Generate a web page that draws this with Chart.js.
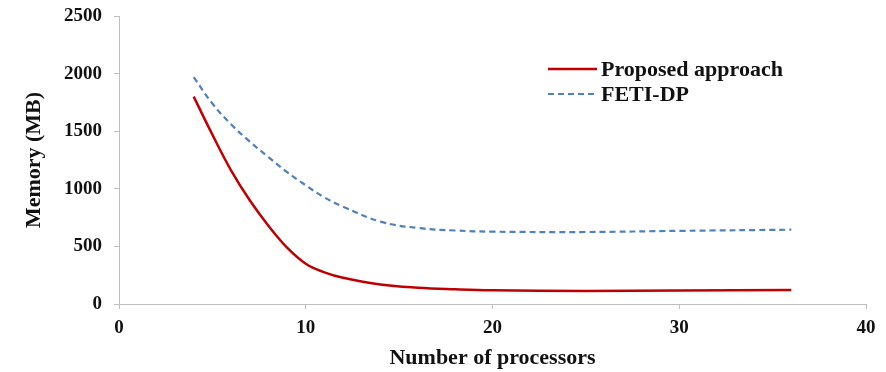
<!DOCTYPE html>
<html>
<head>
<meta charset="utf-8">
<script src="https://cdn.jsdelivr.net/npm/chart.js@4/dist/chart.umd.min.js"></script>
<style>
html,body{margin:0;padding:0;background:#fff;}
#wrap{width:886px;height:372px;}
</style>
</head>
<body>
<div id="wrap"><canvas id="c" width="886" height="372"></canvas></div>
<script>
const processors = [4, 5, 6, 7, 8, 9, 10, 11, 12, 14, 16, 18, 20, 25, 30, 36];
const proposed   = [1800, 1470, 1160, 900, 680, 490, 350, 275, 228, 170, 142, 128, 119, 113, 117, 122];
const fetiDP     = [1970, 1740, 1560, 1410, 1275, 1145, 1030, 925, 845, 715, 660, 638, 628, 625, 635, 645];
const seriesNames = ['Proposed approach', 'FETI-DP'];
const xTicks = [0, 10, 20, 30, 40];
const yTicks = [0, 500, 1000, 1500, 2000, 2500];

const serif = "'Liberation Serif', 'Times New Roman', serif";

const legendPlugin = {
  id: 'insideLegend',
  afterDraw(chart) {
    const ctx = chart.ctx;
    const items = [
      {ds: chart.data.datasets[0], y: 69},
      {ds: chart.data.datasets[1], y: 94}
    ];
    ctx.save();
    items.forEach(it => {
      ctx.strokeStyle = it.ds.borderColor;
      ctx.lineWidth = it.ds.borderWidth;
      ctx.setLineDash(it.ds.borderDash || []);
      ctx.beginPath();
      ctx.moveTo(548, it.y);
      ctx.lineTo(597, it.y);
      ctx.stroke();
      ctx.setLineDash([]);
      ctx.fillStyle = '#111';
      ctx.font = 'bold 22px ' + serif;
      ctx.textBaseline = 'middle';
      ctx.textAlign = 'left';
      ctx.fillText(it.ds.label, 601, it.y + 1);
    });
    ctx.restore();
  }
};

new Chart(document.getElementById('c'), {
  type: 'line',
  data: {
    datasets: [
      {
        label: seriesNames[0],
        data: processors.map((x, i) => ({x: x, y: proposed[i]})),
        borderColor: '#C00000',
        borderWidth: 2.5,
        pointRadius: 0,
        tension: 0.4,
        fill: false
      },
      {
        label: seriesNames[1],
        data: processors.map((x, i) => ({x: x, y: fetiDP[i]})),
        borderColor: '#4F81BD',
        borderWidth: 2.2,
        borderDash: [6, 4],
        pointRadius: 0,
        tension: 0.4,
        fill: false
      }
    ]
  },
  options: {
    responsive: false,
    animation: false,
    devicePixelRatio: 1,
    layout: {padding: {top: 16, right: 20, left: 21, bottom: 0}},
    plugins: {legend: {display: false}, tooltip: {enabled: false}},
    scales: {
      x: {
        type: 'linear',
        min: 0, max: 40,
        afterBuildTicks: s => { s.ticks = xTicks.map(v => ({value: v})); },
        afterFit: s => { s.height = 68; s.paddingLeft = 0; s.paddingRight = 0; },
        border: {color: '#BFBFBF', width: 1},
        grid: {display: true, drawOnChartArea: false, color: '#BFBFBF', tickLength: 5},
        ticks: {color: '#111', font: {family: serif, size: 19, weight: 'bold'}, padding: 8, maxRotation: 0,
                callback: v => String(v)},
        title: {display: true, text: 'Number of processors', color: '#111', font: {family: serif, size: 22, weight: 'bold'}, padding: {top: 4, bottom: 0}}
      },
      y: {
        type: 'linear',
        min: 0, max: 2500,
        afterBuildTicks: s => { s.ticks = yTicks.map(v => ({value: v})); },
        afterFit: s => { s.width = 98; s.paddingTop = 0; s.paddingBottom = 0; },
        border: {color: '#BFBFBF', width: 1},
        grid: {display: true, drawOnChartArea: false, color: '#BFBFBF', tickLength: 5},
        ticks: {color: '#111', font: {family: serif, size: 19, weight: 'bold'}, padding: 12,
                callback: v => String(v)},
        title: {display: true, text: 'Memory (MB)', color: '#111', font: {family: serif, size: 22, weight: 'bold'}, padding: {top: 0, bottom: 0}}
      }
    }
  },
  plugins: [legendPlugin]
});
</script>
</body>
</html>
